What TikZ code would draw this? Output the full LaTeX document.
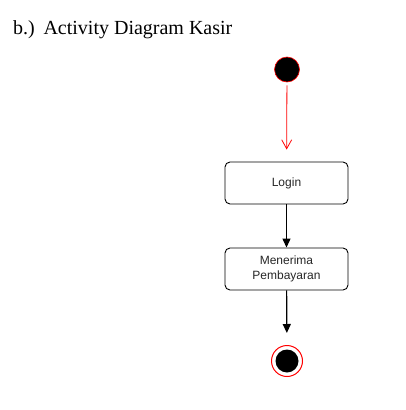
\documentclass[tikz,border=0pt]{standalone}
\usepackage{fontspec}
\setmainfont{Liberation Serif}
\newfontfamily\boxfont{Liberation Sans}
\usetikzlibrary{arrows.meta}

\begin{document}
\begin{tikzpicture}[x=1pt, y=-1pt,
	actbox/.style={draw, rounded corners=5pt, line width=0.9pt, minimum width=123pt, minimum height=42pt, inner sep=2pt, align=center, font=\boxfont\fontsize{12}{15}\selectfont, text=black!85},
	startdot/.style={circle, fill=black, draw=red, line width=0.6pt, minimum size=25pt, inner sep=0},
	enddot/.style={circle, fill=white, draw=red, line width=1pt, minimum size=31pt, inner sep=0, path picture={\fill[black] (path picture bounding box.center) circle (11.5pt);}},
	flow/.style={-{Triangle[length=9pt, width=8pt]}, line width=1.2pt},
	firstflow/.style={-{Straight Barb[length=9pt, width=10pt, line width=0.8pt]}, draw=red, line width=0.8pt}]
	\useasboundingbox (0, 0) rectangle (406, 410);
	% Title:
	\node[anchor=base west, inner sep=0, font=\fontsize{20}{24}\selectfont](title) at (13, 34){b.)\hspace{2pt} Activity Diagram Kasir};
	% Nodes:
	\node[startdot](start) at (287, 69.5){};
	\node[actbox](login) at (286.5, 183){Login};
	\node[actbox](bayar) at (286.5, 269){Menerima\\Pembayaran};
	\node[enddot](end) at (287, 361){};
	% Flows:
	\draw[firstflow, shorten <=3pt, shorten >=12pt] (start) -- (login);
	\draw[flow] (login) -- (bayar);
	\draw[flow, shorten >=12pt] (bayar) -- (end);
\end{tikzpicture}
\end{document}
